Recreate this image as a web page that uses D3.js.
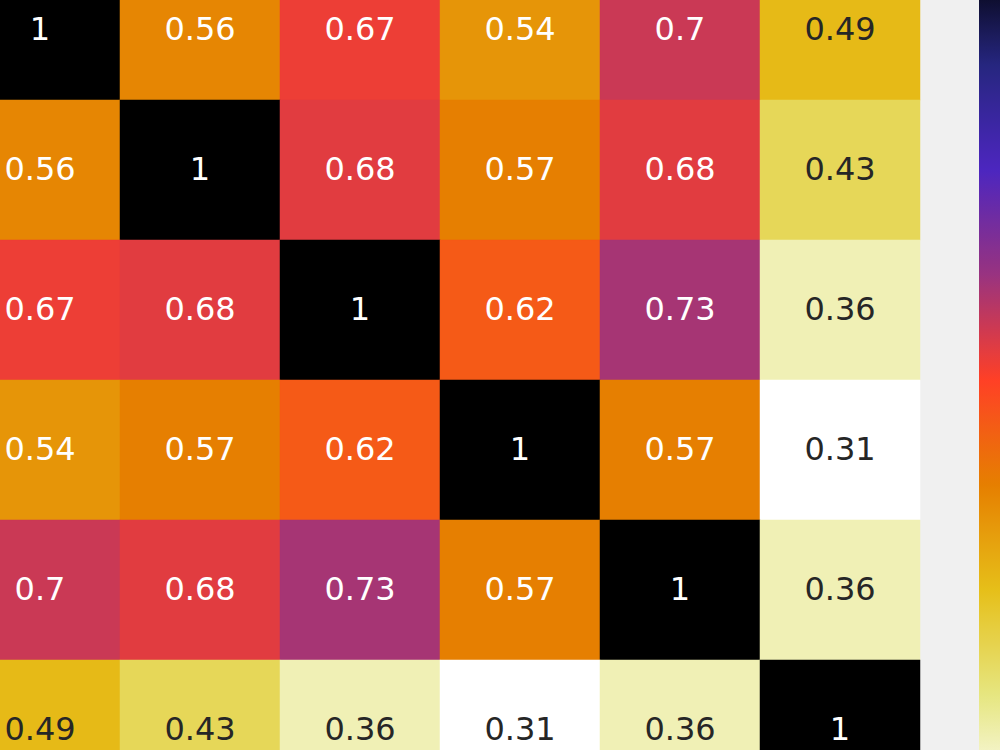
<!DOCTYPE html>
<html lang="en">
<head>
	<meta charset="utf-8">
	<title>Correlation heatmap</title>
	<script src="https://cdnjs.cloudflare.com/ajax/libs/d3/7.8.5/d3.min.js"></script>
	<style>
		html, body { margin: 0; padding: 0; background: #f0f0f0; overflow: hidden; }
		svg { display: block; }
	</style>
</head>
<body>
<script>

	// variables (labels are off-screen in this view)
	var labels = ["v1", "v2", "v3", "v4", "v5", "v6"];

	// correlation matrix, one row per variable
	var row1 = [1, 0.56, 0.67, 0.54, 0.7, 0.49];
	var row2 = [0.56, 1, 0.68, 0.57, 0.68, 0.43];
	var row3 = [0.67, 0.68, 1, 0.62, 0.73, 0.36];
	var row4 = [0.54, 0.57, 0.62, 1, 0.57, 0.31];
	var row5 = [0.7, 0.68, 0.73, 0.57, 1, 0.36];
	var row6 = [0.49, 0.43, 0.36, 0.31, 0.36, 1];
	var matrix = [row1, row2, row3, row4, row5, row6];

	var width = 1000, height = 750;

	// CMRmap segment data (matplotlib), used reversed
	var cmr = {
		r: [0, 0.15, 0.30, 0.60, 1.00, 0.90, 0.90, 0.90, 1.00],
		g: [0, 0.15, 0.15, 0.20, 0.25, 0.50, 0.75, 0.90, 1.00],
		b: [0, 0.50, 0.75, 0.50, 0.15, 0.00, 0.10, 0.50, 1.00]
	};
	function chan(arr, t) {
		t = Math.max(0, Math.min(1, t));
		var p = t * 8, i = Math.min(7, Math.floor(p)), f = p - i;
		return arr[i] + (arr[i + 1] - arr[i]) * f;
	}
	function cmrmapR(t) {
		var u = 1 - t;
		return d3.rgb(chan(cmr.r, u) * 255, chan(cmr.g, u) * 255, chan(cmr.b, u) * 255).toString();
	}

	// relative luminance, same rule as seaborn's annotations
	function luminance(c) {
		var lin = [c.r, c.g, c.b].map(function(v) {
			v = v / 255;
			return v <= 0.03928 ? v / 12.92 : Math.pow((v + 0.055) / 1.055, 2.4);
		});
		return 0.2126 * lin[0] + 0.7152 * lin[1] + 0.0722 * lin[2];
	}

	var flat = d3.merge(matrix);
	var vmin = d3.min(flat), vmax = d3.max(flat);
	var color = d3.scaleSequential(cmrmapR).domain([vmin, vmax]);

	var x = d3.scaleBand().domain(d3.range(labels.length)).range([-40, 920]);
	var y = d3.scaleBand().domain(d3.range(labels.length)).range([-40, 800]);

	var svg = d3.select("body").append("svg")
		.attr("width", width)
		.attr("height", height);

	svg.append("rect")
		.attr("width", width)
		.attr("height", height)
		.attr("fill", "#f0f0f0");

	var cells = [];
	matrix.forEach(function(row, i) {
		row.forEach(function(v, j) { cells.push({ i: i, j: j, v: v }); });
	});

	var cell = svg.selectAll(".cell")
		.data(cells)
		.enter()
		.append("g")
		.attr("class", "cell");

	cell.append("rect")
		.attr("x", function(d) { return x(d.j); })
		.attr("y", function(d) { return y(d.i); })
		.attr("width", x.bandwidth())
		.attr("height", y.bandwidth())
		.attr("fill", function(d) { return color(d.v); })
		.attr("stroke", function(d) { return color(d.v); })
		.attr("stroke-width", 0.5);

	cell.append("text")
		.attr("x", function(d) { return x(d.j) + x.bandwidth() / 2; })
		.attr("y", function(d) { return y(d.i) + y.bandwidth() / 2; })
		.attr("dy", "0.32em")
		.attr("text-anchor", "middle")
		.attr("font-family", "DejaVu Sans")
		.attr("font-size", 32)
		.attr("fill", function(d) {
			return luminance(d3.rgb(color(d.v))) > 0.408 ? "#262626" : "#ffffff";
		})
		.text(function(d) { return d3.format("~g")(d.v); });

	// colorbar
	var cy = d3.scaleLinear().domain([vmin, vmax]).range([800, -40]);

	var grad = svg.append("defs").append("linearGradient")
		.attr("id", "cbar")
		.attr("gradientUnits", "userSpaceOnUse")
		.attr("x1", 0).attr("x2", 0)
		.attr("y1", cy(vmax)).attr("y2", cy(vmin));

	grad.selectAll("stop")
		.data(d3.range(0, 1.0001, 1 / 64))
		.enter()
		.append("stop")
		.attr("offset", function(t) { return t; })
		.attr("stop-color", function(t) { return color(vmax - t * (vmax - vmin)); });

	svg.append("rect")
		.attr("x", 979)
		.attr("y", cy(vmax))
		.attr("width", 40)
		.attr("height", cy(vmin) - cy(vmax))
		.attr("fill", "url(#cbar)");

</script>
</body>
</html>
